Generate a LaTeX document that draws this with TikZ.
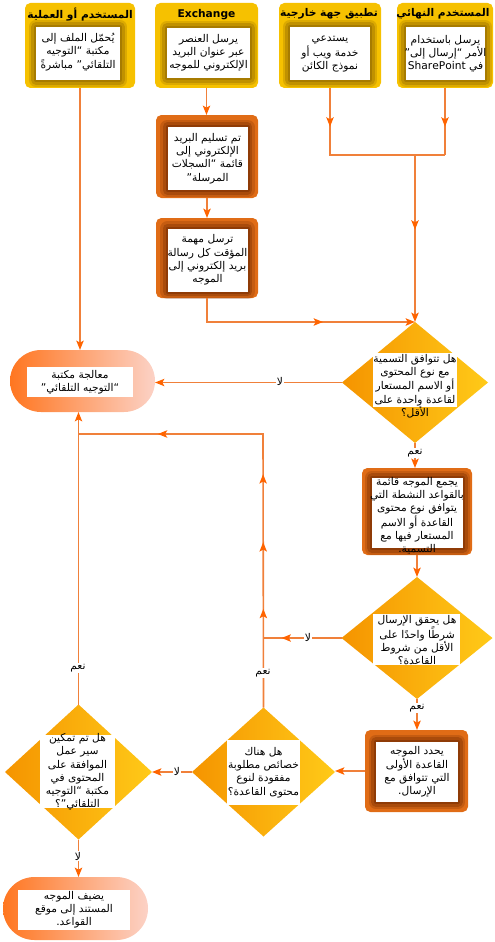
\documentclass[tikz,border=0pt]{standalone}
\usepackage{fontspec}
\TeXXeTstate=1
\newfontfamily\arfont[Script=Arabic]{DejaVu Sans}
\usetikzlibrary{arrows.meta,shapes.geometric,shapes.misc,decorations.markings}

\definecolor{goldc}{RGB}{246,193,0}
\definecolor{goldsh}{RGB}{130,90,0}
\definecolor{procc}{RGB}{224,108,22}
\definecolor{procsh}{RGB}{105,36,0}
\definecolor{qleft}{RGB}{245,148,0}
\definecolor{qright}{RGB}{255,202,24}
\definecolor{termL}{RGB}{255,118,32}
\definecolor{termR}{RGB}{252,210,198}
\definecolor{lnc}{RGB}{240,128,58}
\definecolor{tipc}{RGB}{255,100,0}

\newcommand{\arl}[1]{\beginR#1\endR}

\tikzset{every picture/.style={line width=0.75pt},
  tp/.tip={Stealth[length=7pt,width=5.5pt,inset=1.5pt,color=tipc]},
  sz/.style 2 args={minimum width=#1*0.75pt,minimum height=#2*0.75pt,inner sep=0pt,outer sep=0pt},
  topbox/.style={fill=goldc,rounded corners=4pt},
  procbox/.style={fill=procc,rounded corners=4pt},
  halo/.style={preaction={draw=#1,draw opacity=.22,line width=11pt,line join=round},
    preaction={draw=#1,draw opacity=.3,line width=7pt,line join=round},
    preaction={draw=#1,draw opacity=.4,line width=3pt,line join=round}},
  inbox/.style={fill=white,halo=#1},
  plainw/.style={fill=white},
  ques/.style={diamond,left color=qleft,right color=qright},
  term/.style={rounded rectangle,left color=termL,right color=termR},
  hdr/.style={font=\arfont\bfseries\fontsize{8}{10}\selectfont,inner sep=0pt},
  txt/.style={font=\arfont\fontsize{8}{9.9}\selectfont,align=center,inner sep=0pt},
  lbl/.style={font=\arfont\fontsize{8}{9}\selectfont,fill=white,inner sep=0.8pt},
  ln/.style={draw=lnc,line width=1.2pt},
  mt/.style={postaction={decorate,decoration={markings,mark=at position #1 with {\arrow{tp}}}}}
}

\begin{document}
\begin{tikzpicture}[x=0.75pt,y=0.75pt,yscale=-1,xscale=1]
\useasboundingbox (0,0) rectangle (495,942);

%Top row: senders
\node[topbox,sz={110}{85}] (ua) at (80,45.5) {};
\node[inbox=goldsh,sz={84}{53}] (uaw) at (78,53.5) {};
\node[hdr] (uah) at (80,15) {\arl{المستخدم أو العملية}};
\node[txt] (uat) at (78,52) {\arl{يُحمّل الملف إلى}\\\arl{مكتبة “التوجيه}\\\arl{التلقائي” مباشرةً}};

\node[topbox,sz={103}{85}] (ub) at (206.5,45.5) {};
\node[inbox=goldsh,sz={83}{50}] (ubw) at (208.5,53) {};
\node[hdr] (ubh) at (206.5,15) {Exchange};
\node[txt] (ubt) at (208.5,53) {\arl{يرسل العنصر}\\\arl{عبر عنوان البريد}\\\arl{الإلكتروني للموجه}};

\node[topbox,sz={102}{85}] (uc) at (330,45.5) {};
\node[inbox=goldsh,sz={80}{53}] (ucw) at (330,53.5) {};
\node[hdr] (uch) at (329,14) {\arl{تطبيق جهة خارجية}};
\node[txt] (uct) at (330,54) {\arl{يستدعي}\\\arl{خدمة ويب أو}\\\arl{نموذج الكائن}};

\node[topbox,sz={96}{85}] (ud) at (445,45.5) {};
\node[inbox=goldsh,sz={79}{53}] (udw) at (445.5,53.5) {};
\node[hdr] (udh) at (443,14) {\arl{المستخدم النهائي}};
\node[txt] (udt) at (445.5,54) {\arl{يرسل باستخدام}\\\arl{الأمر “إرسال إلى”}\\\arl{في \beginL SharePoint\endL}};

%Process boxes
\node[procbox,sz={102}{83}] (p1) at (207,156.5) {};
\node[inbox=procsh,sz={80}{63}] (p1w) at (207.5,158.5) {};
\node[txt] (p1t) at (207.5,158.5) {\arl{تم تسليم البريد}\\\arl{الإلكتروني إلى}\\\arl{قائمة “السجلات}\\\arl{المرسلة”}};

\node[procbox,sz={102}{80}] (p2) at (207,258) {};
\node[inbox=procsh,sz={80}{63}] (p2w) at (207.5,260) {};
\node[txt] (p2t) at (207.5,260) {\arl{ترسل مهمة}\\\arl{المؤقت كل رسالة}\\\arl{بريد إلكتروني إلى}\\\arl{الموجه}};

\node[procbox,sz={110}{87}] (p3) at (417,511.5) {};
\node[inbox=procsh,sz={91}{70}] (p3w) at (417.5,513) {};
\node[txt] (p3t) at (417,516) {\arl{يجمع الموجه قائمة}\\\arl{بالقواعد النشطة التي}\\\arl{يتوافق نوع محتوى}\\\arl{القاعدة أو الاسم}\\\arl{المستعار فيها مع}\\\arl{التسمية.}};

\node[procbox,sz={103}{82}] (p4) at (416.5,771) {};
\node[inbox=procsh,sz={82}{60}] (p4w) at (417,772) {};
\node[txt] (p4t) at (417,772) {\arl{يحدد الموجه}\\\arl{القاعدة الأولى}\\\arl{التي تتوافق مع}\\\arl{الإرسال.}};

%Decisions
\node[ques,sz={146}{121}] (q1) at (415,382.5) {};
\node[plainw,sz={84}{54}] (q1w) at (415,380) {};
\node[txt] (q1t) at (415,386) {\arl{هل تتوافق التسمية}\\\arl{مع نوع المحتوى}\\\arl{أو الاسم المستعار}\\\arl{لقاعدة واحدة على}\\\arl{الأقل؟}};

\node[ques,sz={151}{122}] (q2) at (417,638) {};
\node[plainw,sz={87}{51}] (q2w) at (416.5,639.5) {};
\node[txt] (q2t) at (417,640) {\arl{هل يحقق الإرسال}\\\arl{شرطًا واحدًا على}\\\arl{الأقل من شروط}\\\arl{القاعدة؟}};

\node[ques,sz={143}{129}] (q3) at (263.5,772) {};
\node[plainw,sz={73}{65}] (q3w) at (263.5,772.5) {};
\node[txt] (q3t) at (263.5,772.5) {\arl{هل هناك}\\\arl{خصائص مطلوبة}\\\arl{مفقودة لنوع}\\\arl{محتوى القاعدة؟}};

\node[ques,sz={147}{135}] (q4) at (78.5,772) {};
\node[plainw,sz={75}{73}] (q4w) at (77.5,771.5) {};
\node[txt] (q4t) at (77.5,772) {\arl{هل تم تمكين}\\\arl{سير عمل}\\\arl{الموافقة على}\\\arl{المحتوى في}\\\arl{مكتبة “التوجيه}\\\arl{التلقائي”؟}};

%Terminators
\node[term,sz={145}{62}] (r1) at (82.5,381) {};
\node[plainw,sz={106}{30}] (r1w) at (80,382) {};
\node[txt] (r1t) at (80,382) {\arl{معالجة مكتبة}\\\arl{“التوجيه التلقائي”}};

\node[term,sz={145}{63}] (r2) at (75.5,908.5) {};
\node[plainw,sz={112}{40}] (r2w) at (74,910) {};
\node[txt] (r2t) at (74,910) {\arl{يضيف الموجه}\\\arl{المستند إلى موقع}\\\arl{القواعد.}};

%Junctions
\coordinate (jn) at (415,155);
\coordinate (jt) at (263,434);
\coordinate (jq) at (q3.north |- q2.west);

%Straight Lines
\draw[ln,-{tp}] (ua.south) -- (ua.south |- r1.north);
\draw[ln,-{tp}] (ub.south) -- (ub.south |- p1.north);
\draw[ln,-{tp}] (p1.south) -- (p1.south |- p2.north);
\draw[ln,mt=29pt] (uc.south) -- (uc.south |- jn) -- (ud.south |- jn);
\draw[ln,mt=29pt] (ud.south) -- (ud.south |- jn);
\draw[ln,mt=56pt,-{tp}] (jn) -- (q1.north);
\draw[ln,mt=105pt,-{tp}] (p2.south) |- (q1.north);
\draw[ln,-{tp}] (q1.west) -- (q1.west -| r1.east);
\draw[ln,-{tp}] (q1.south) -- (q1.south |- p3.north);
\draw[ln,-{tp}] (p3.south) -- (p3.south |- q2.north);
\draw[ln,mt=45pt] (q2.west) -- (jq);
\draw[ln,-{tp}] (q2.south) -- (q2.south |- p4.north);
\draw[ln,-{tp}] (p4.west) -- (p4.west -| q3.east);
\draw[ln,mt=74pt,mt=124pt,mt=175pt,mt=284pt] (q3.north) -- (jt) -- (jt -| q4.north);
\draw[ln,-{tp}] (q4.north) -- (q4.north |- r1.south);
\draw[ln,-{tp}] (q3.west) -- (q4.east);
\draw[ln,-{tp}] (q4.south) -- (q4.south |- r2.north);

%Labels
\node[lbl] (n1) at (280,381) {\arl{لا}};
\node[lbl] (y1) at (415,453) {\arl{نعم}};
\node[lbl] (n2) at (308,637) {\arl{لا}};
\node[lbl] (y2) at (417,708) {\arl{نعم}};
\node[lbl] (y3) at (263,673) {\arl{نعم}};
\node[lbl] (y4) at (78,668) {\arl{نعم}};
\node[lbl] (n3) at (177,771) {\arl{لا}};
\node[lbl] (n4) at (78,856) {\arl{لا}};
\end{tikzpicture}
\end{document}
